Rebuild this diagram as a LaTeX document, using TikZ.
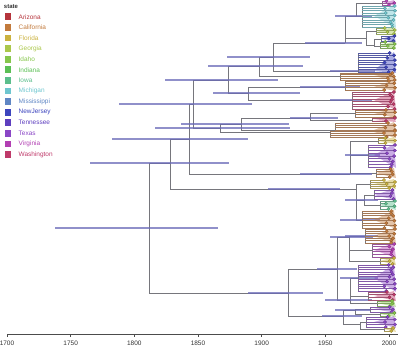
\documentclass[tikz,border=0pt]{standalone}
\usepackage{fontspec}
\setmainfont{Liberation Sans}
\definecolor{cAZ}{HTML}{B5343C}
\definecolor{cCA}{HTML}{C27A3C}
\definecolor{cFL}{HTML}{CBB23F}
\definecolor{cGA}{HTML}{ABC74B}
\definecolor{cID}{HTML}{86C64C}
\definecolor{cIN}{HTML}{5BBF55}
\definecolor{cIA}{HTML}{5BBE8C}
\definecolor{cMI}{HTML}{6EC6CF}
\definecolor{cMS}{HTML}{5F86C4}
\definecolor{cNJ}{HTML}{3D45BE}
\definecolor{cTN}{HTML}{5E3FBF}
\definecolor{cTX}{HTML}{8A46C6}
\definecolor{cVA}{HTML}{B23FB3}
\definecolor{cWA}{HTML}{BF3A6A}
\definecolor{hpdcol}{HTML}{6B6BB8}
\definecolor{branchcol}{HTML}{76767C}
\tikzset{
  branch/.style={draw=branchcol, line width=0.8bp},
  hpd/.style={draw=hpdcol, line width=1.5bp, opacity=0.75},
  tipdot/.style={line width=0.25bp},
  legtext/.style={anchor=west, inner sep=0pt, font=\fontsize{6.5}{7}\selectfont},
  axislabel/.style={inner sep=0pt, text=black!80, font=\fontsize{6.5}{7}\selectfont},
}
% clades at the tips: name/x/attach y/top/bottom/steps/colour
\def\cladelist{%
  cVAa/382/3/1/5/2/cVA, cMIa/362/16/6/27/9/cMI, cGAa/376/31/28/34/3/cGA,
  cNJa/381/39/36/41/2/cNJ, cIDa/380/46/42/48/3/cID, cNJb/358/71/53/72/8/cNJ,
  cCAa/340/76/73/80/4/cCA, cCAb/345/87/81/90/4/cCA, cWAa/352/100/92/109/7/cWA,
  cCAc/355/113/110/117/3/cCA, cWAb/372/120/118/121/1/cWA, cCAd/335/130/123/130/3/cCA,
  cCAe/330/132/131/137/3/cCA, cFLa/378/141/138/143/2/cFL, cTXa/368/155/145/167/8/cTX,
  cCAf/376/173/169/177/3/cCA, cFLb/370/184/180/188/4/cFL, cTXb/374/195/190/199/3/cTX,
  cIAa/380/205/201/209/3/cIA, cCAg/362/220/211/228/7/cCA, cCAh/365/236/229/243/6/cCA,
  cVAb/372/250/244/257/5/cVA, cFLc/380/261/258/264/2/cFL, cTXc/358/278/265/291/11/cTX,
  cWAc/368/296/292/300/3/cWA, cIDb/377/303/301/306/2/cID, cTXd/370/309/307/312/2/cTX,
  cIDc/380/314/313/316/1/cID, cTXe/366/322/317/327/4/cTX, cFLd/384/329/328/331/1/cFL}

\begin{document}
\begin{tikzpicture}[x=1bp, y=-1bp]
\useasboundingbox (0,0) rectangle (400,346);

% internal nodes
\coordinate (R) at (149,228);
\coordinate (A) at (170,163);
\coordinate (C) at (189,139);
\coordinate (E) at (193,104);
\coordinate (G) at (228,80);
\coordinate (I) at (259,66);
\coordinate (L) at (273,57);
\coordinate (K) at (248,93);
\coordinate (H) at (220,128);
\coordinate (M) at (241,124);
\coordinate (N) at (310,118);
\coordinate (F) at (350,174);
\coordinate (D) at (356,189);
\coordinate (D2) at (364,200);
\coordinate (B) at (288,293);
\coordinate (O) at (337,269);
\coordinate (Q) at (349,237);
\coordinate (Ob) at (350,300);
\coordinate (P) at (343,316);
\coordinate (P1) at (355,310);
\coordinate (P2) at (360,324);
\coordinate (T1) at (345,43);
\coordinate (T1a) at (356,16);
\coordinate (T1b) at (366,38);
\coordinate (T1c) at (374,45);
\foreach \n/\x/\ya/\yt/\yb/\m/\col in \cladelist
  \coordinate (\n) at (\x,\ya);

% branches
\foreach \p/\c in {R/A, R/B, A/C, A/D, C/E, C/F, E/G, E/H, G/I, G/K,
    I/L, I/cCAa, L/T1, L/cNJb, T1/T1a, T1/T1b, T1a/cVAa, T1a/cMIa,
    T1b/cGAa, T1b/T1c, T1c/cNJa, T1c/cIDa, K/cCAb, K/cWAa, H/M, H/cCAe,
    M/N, M/cCAd, N/cCAc, N/cWAb, F/cFLa, F/cTXa, F/cCAf, D/cFLb, D/D2,
    D/cCAg, D2/cTXb, D2/cIAa, B/O, B/P, O/Q, O/Ob, Q/cCAh, Q/cVAb, Q/cFLc,
    Ob/cTXc, Ob/cWAc, Ob/cIDb, P/P1, P/P2, P1/cTXd, P1/cIDc, P2/cTXe, P2/cFLd}
  \draw[branch] (\p) |- (\c);

% node age intervals
\foreach \n/\l/\r in {R/55/218, A/90/229, C/112/248, E/119/252, G/165/278,
    I/208/303, L/227/310, K/213/300, H/155/290, M/181/289, N/290/338,
    F/300/372, D/268/340, B/248/323, O/317/357, P/322/362, Q/330/373,
    Ob/325/372, T1/305/362, T1a/335/372, D2/345/378, P1/335/370,
    cCAb/300/360, cNJb/330/375, cWAa/330/372, cCAh/345/378, cTXc/340/378,
    cCAg/340/380, cTXa/345/380}
  \draw[hpd] (\l,0 |- \n) -- (\r,0 |- \n);

% tips
\foreach \n/\x/\ya/\yt/\yb/\m/\col in \cladelist {
  \draw[branch] (\x,\yt) -- (\x,\yb);
  \pgfmathsetmacro{\xt}{max(\x,374)}
  \fill[\col, opacity=0.45] (\xt,\ya) -- (394,\yt-1) -- (396,\yb+1) -- cycle;
  \foreach \k in {0,...,\m} {
    \pgfmathsetmacro{\yy}{\yt+(\yb-\yt)*\k/max(\m,1)}
    \pgfmathsetmacro{\xe}{384+11*abs(sin(97*\k+13*\yt))}
    \draw[branch, draw=\col!60!branchcol] (\x,\yy) -- (\xe,\yy);
    \fill[tipdot, fill=\col, draw=\col!70!black] (\xe,\yy) circle (1.7bp);
  }
}

% legend
\node[anchor=west, inner sep=0pt, text=black!80, font=\fontsize{6}{7}\selectfont\bfseries] (legtitle) at (3.8,6.5) {state};
\foreach \s/\c [count=\i from 0] in {Arizona/cAZ, California/cCA, Florida/cFL,
    Georgia/cGA, Idaho/cID, Indiana/cIN, Iowa/cIA, Michigan/cMI,
    Mississippi/cMS, NewJersey/cNJ, Tennessee/cTN, Texas/cTX,
    Virginia/cVA, Washington/cWA} {
  \pgfmathsetmacro{\ly}{16.7+10.6*\i}
  \fill[\c] (4.6,\ly-3.4) rectangle ++(6.8,6.8);
  \node[legtext, text=\c] (leg-\s) at (18.5,\ly) {\s};
}

% time axis
\draw[draw=black!70, line width=0.6bp] (7,334.5) -- (398,334.5);
\foreach \yr in {1700,1750,...,2000} {
  \pgfmathsetmacro{\ax}{7+(\yr-1700)*1.2733}
  \draw[draw=black!70, line width=0.6bp] (\ax,334.5) -- (\ax,337);
  \node[axislabel] (yr\yr) at (\ax,343.6) {\yr};
}
\end{tikzpicture}
\end{document}
